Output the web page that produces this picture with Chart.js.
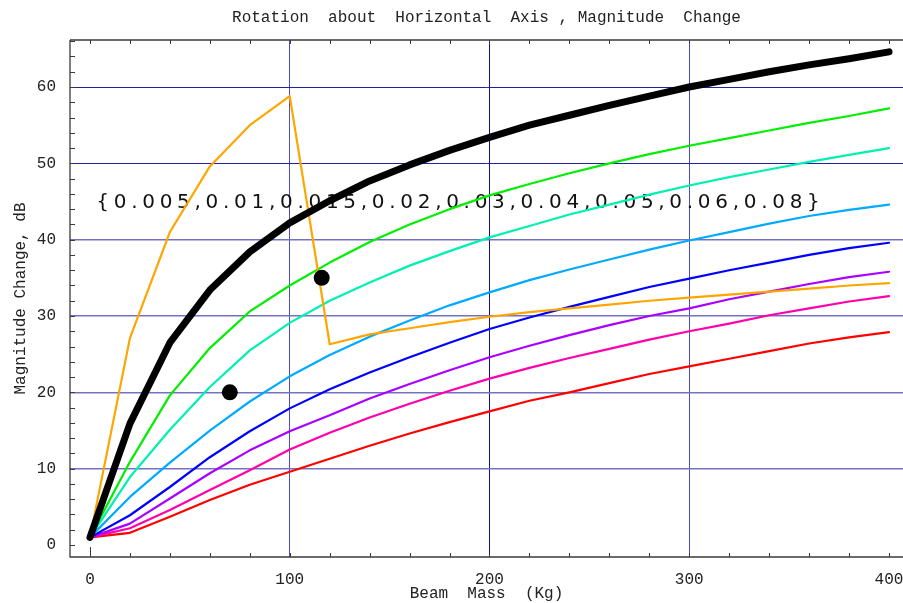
<!DOCTYPE html>
<html>
<head>
<meta charset="utf-8">
<script src="https://cdn.jsdelivr.net/npm/chart.js@4.4.1/dist/chart.umd.min.js"></script>
<style>
  html, body { margin: 0; padding: 0; background: #ffffff; }
  #wrap { width: 903px; height: 603px; }
</style>
</head>
<body>
<div id="wrap"><canvas id="chart" width="903" height="603"></canvas></div>
<script>
// Beam mass samples (kg)
const beamMass = [0, 20, 40, 60, 80, 100, 120, 140, 160, 180, 200, 220, 240, 260, 280, 300, 320, 340, 360, 380, 400];

// Magnitude change (dB) for each damping value
const damp005 = [1, 27.1, 41.0, 49.6, 55.0, 58.8, 26.3, 27.6, 28.4, 29.2, 29.9, 30.5, 31.0, 31.5, 32.0, 32.4, 32.8, 33.2, 33.6, 34.0, 34.3];
const damp010 = [1, 15.9, 26.5, 33.4, 38.4, 42.2, 45.1, 47.7, 49.8, 51.7, 53.4, 55.0, 56.3, 57.6, 58.8, 60.0, 61.0, 62.0, 62.9, 63.7, 64.6];
const damp015 = [1, 10.9, 19.6, 25.8, 30.6, 34.0, 37.0, 39.7, 42.0, 44.0, 45.8, 47.3, 48.7, 50.0, 51.2, 52.3, 53.3, 54.3, 55.3, 56.2, 57.2];
const damp020 = [1, 8.9, 15.1, 20.7, 25.5, 29.1, 32.0, 34.4, 36.6, 38.5, 40.3, 41.8, 43.3, 44.6, 45.9, 47.1, 48.2, 49.2, 50.2, 51.1, 52.0];
const damp030 = [1, 6.3, 10.8, 15.0, 18.8, 22.1, 24.9, 27.3, 29.4, 31.4, 33.1, 34.7, 36.1, 37.4, 38.7, 39.9, 41.0, 42.1, 43.1, 43.9, 44.6];
const damp040 = [1, 3.9, 7.6, 11.5, 14.9, 17.9, 20.4, 22.6, 24.6, 26.5, 28.3, 29.8, 31.2, 32.5, 33.8, 34.9, 36.0, 37.0, 38.0, 38.9, 39.6];
const damp050 = [1, 2.8, 6.1, 9.4, 12.4, 14.9, 17.0, 19.2, 21.1, 22.9, 24.6, 26.1, 27.5, 28.8, 30.0, 31.0, 32.2, 33.2, 34.2, 35.1, 35.8];
const damp060 = [1, 2.2, 4.6, 7.2, 9.8, 12.5, 14.7, 16.7, 18.5, 20.2, 21.8, 23.2, 24.5, 25.7, 26.9, 28.0, 29.0, 30.1, 31.0, 31.9, 32.6];
const damp080 = [1, 1.6, 3.7, 5.9, 7.9, 9.6, 11.3, 13.0, 14.6, 16.1, 17.5, 18.9, 20.0, 21.2, 22.4, 23.4, 24.4, 25.4, 26.4, 27.2, 27.9];

// Marked operating points
const markX = [70, 116];
const markY = [20, 35];

// Axis tick labels
const xTickValues = [0, 100, 200, 300, 400];
const yTickValues = [0, 10, 20, 30, 40, 50, 60];

// Plot title and the damping values listed on the plot
const plotTitle = 'Rotation  about  Horizontal  Axis , Magnitude  Change';
const dampingList = '{0.005,0.01,0.015,0.02,0.03,0.04,0.05,0.06,0.08}';

const pts = vals => beamMass.map((m, i) => ({ x: m, y: vals[i] }));

const monoFont = "'Liberation Mono', 'DejaVu Sans Mono', monospace";

function curve(label, vals, color, width) {
  return {
    label: label,
    data: pts(vals),
    borderColor: color,
    backgroundColor: color,
    borderWidth: width,
    pointRadius: 0,
    pointHoverRadius: 0,
    fill: false,
    tension: 0,
    borderCapStyle: 'round',
    borderJoinStyle: 'round'
  };
}

// Frame with inward minor ticks, plus the title centred over the plot area
const framePlugin = {
  id: 'frame',
  afterDatasetsDraw(chart) {
    const { ctx, chartArea: a, scales: { x, y } } = chart;
    ctx.save();
    ctx.strokeStyle = '#3a3a3a';
    ctx.lineWidth = 1.3;
    ctx.beginPath();
    ctx.moveTo(a.left, a.top); ctx.lineTo(a.right + 2, a.top);
    ctx.moveTo(a.left, a.top); ctx.lineTo(a.left, a.bottom); ctx.lineTo(a.right + 2, a.bottom);
    ctx.stroke();
    ctx.lineWidth = 1;
    ctx.beginPath();
    for (let v = 0; v <= 400; v += 20) {
      const px = Math.round(x.getPixelForValue(v)) + 0.5;
      const len = v === 0 ? 10 : 4;
      ctx.moveTo(px, a.bottom); ctx.lineTo(px, a.bottom - len);
      ctx.moveTo(px, a.top); ctx.lineTo(px, a.top + 4);
    }
    for (let v = 0; v <= 66; v += 2) {
      const py = Math.round(y.getPixelForValue(v)) + 0.5;
      ctx.moveTo(a.left, py); ctx.lineTo(a.left + 5, py);
    }
    ctx.stroke();

    ctx.font = '16px ' + monoFont;
    ctx.fillStyle = '#222222';
    ctx.textAlign = 'center';
    ctx.textBaseline = 'middle';
    ctx.fillText(plotTitle, (a.left + a.right) / 2, a.top - 22);
    ctx.restore();
  }
};

// Damping list written across the plot, widely spaced
const notePlugin = {
  id: 'note',
  beforeDatasetsDraw(chart) {
    const { ctx, scales: { x, y } } = chart;
    ctx.save();
    ctx.font = "20px 'DejaVu Sans', sans-serif";
    ctx.fillStyle = '#111111';
    ctx.textBaseline = 'alphabetic';
    ctx.textAlign = 'left';
    let px = x.getPixelForValue(3.2);
    const py = y.getPixelForValue(44.2);
    for (const ch of dampingList) {
      ctx.fillText(ch, px, py);
      px += ctx.measureText(ch).width + 4.7;
    }
    ctx.restore();
  }
};

new Chart(document.getElementById('chart'), {
  type: 'line',
  data: {
    datasets: [
      {
        label: 'points',
        data: markX.map((m, i) => ({ x: m, y: markY[i] })),
        showLine: false,
        pointRadius: 8,
        pointHoverRadius: 8,
        pointBackgroundColor: '#000000',
        pointBorderColor: '#000000',
        pointBorderWidth: 0,
        borderColor: '#000000'
      },
      curve('0.01', damp010, '#000000', 7),
      curve('0.005', damp005, '#ffa500', 2.2),
      curve('0.015', damp015, '#00ee00', 2.2),
      curve('0.02', damp020, '#00f0b0', 2.2),
      curve('0.03', damp030, '#00aaff', 2.2),
      curve('0.04', damp040, '#0000ff', 2.2),
      curve('0.05', damp050, '#aa00ff', 2.2),
      curve('0.06', damp060, '#ff00aa', 2.2),
      curve('0.08', damp080, '#ff0000', 2.2)
    ]
  },
  plugins: [notePlugin, framePlugin],
  options: {
    responsive: false,
    animation: false,
    devicePixelRatio: 1,
    layout: { padding: { top: 40, left: 0, right: 0, bottom: 0 }, autoPadding: false },
    plugins: {
      legend: { display: false },
      tooltip: { enabled: false },
      title: { display: false }
    },
    scales: {
      x: {
        type: 'linear',
        min: -10,
        max: 407,
        afterBuildTicks: s => { s.ticks = xTickValues.map(v => ({ value: v })); },
        afterFit: s => { s.height = 46; s.paddingLeft = 0; s.paddingRight = 0; },
        ticks: {
          autoSkip: false,
          maxRotation: 0,
          padding: 13,
          color: '#222222',
          font: { family: monoFont, size: 16, lineHeight: 1.2 }
        },
        grid: {
          drawTicks: false,
          lineWidth: 1,
          color: c => (c.tick && c.tick.value === 200) ? '#10108a'
                    : (c.tick && (c.tick.value === 100 || c.tick.value === 300)) ? '#4c4cc4'
                    : 'rgba(0,0,0,0)'
        },
        border: { display: false },
        title: {
          display: true,
          text: 'Beam  Mass  (Kg)',
          color: '#222222',
          font: { family: monoFont, size: 16, lineHeight: 1.2 },
          padding: { top: 0, bottom: 0 }
        }
      },
      y: {
        type: 'linear',
        min: -1.57,
        max: 66.16,
        afterBuildTicks: s => { s.ticks = yTickValues.map(v => ({ value: v })); },
        afterFit: s => { s.width = 70; s.paddingTop = 0; s.paddingBottom = 0; },
        ticks: {
          autoSkip: false,
          padding: 14,
          color: '#222222',
          font: { family: monoFont, size: 16, lineHeight: 1.2 }
        },
        grid: {
          drawTicks: false,
          lineWidth: c => (c.tick && c.tick.value < 50) ? 1.5 : 1,
          color: c => (!c.tick || c.tick.value === 0) ? 'rgba(0,0,0,0)'
                    : (c.tick.value >= 50 ? '#2020a4' : '#7272c4')
        },
        border: { display: false },
        title: {
          display: true,
          text: 'Magnitude Change, dB',
          color: '#222222',
          font: { family: monoFont, size: 16, lineHeight: 1.2 },
          padding: { top: 11, bottom: 0 }
        }
      }
    }
  }
});
</script>
</body>
</html>
